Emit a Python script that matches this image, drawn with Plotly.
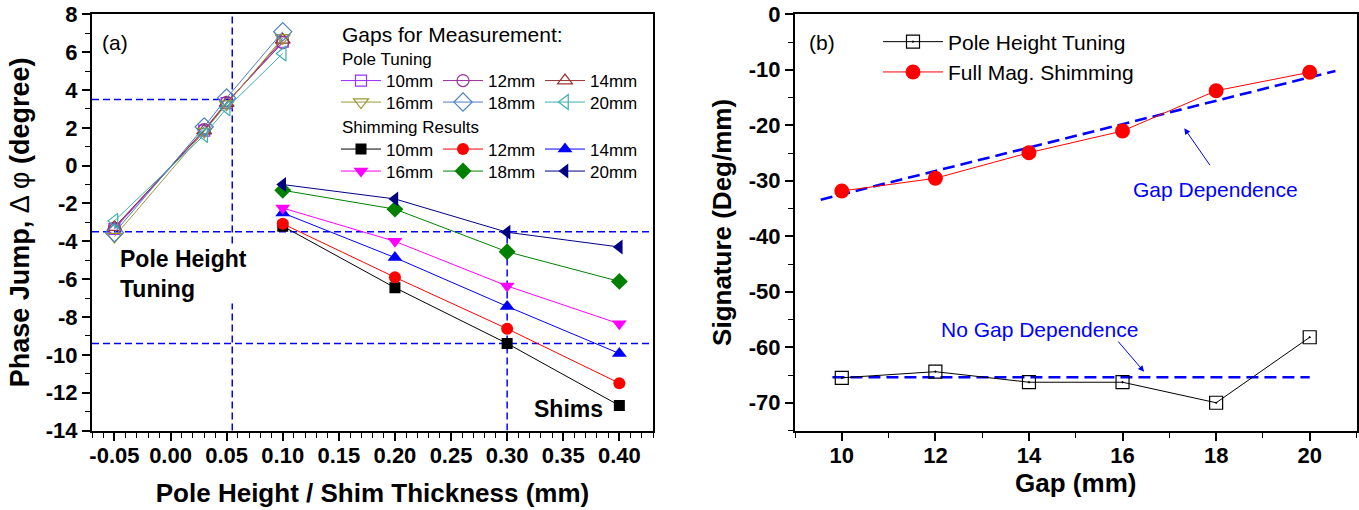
import plotly.graph_objects as go

W, H = 1359, 510
FONT = "Liberation Sans, Arial, sans-serif"

# ---------------- panel (a): phase jump vs pole height / shim thickness ----------------
gap_labels = ["10mm", "12mm", "14mm", "16mm", "18mm", "20mm"]

# pole height tuning (open symbols)
pole_x = [-0.05, 0.03, 0.05, 0.10]
pole_10 = [-3.35, 1.85, 3.30, 6.55]
pole_12 = [-3.30, 1.90, 3.35, 6.50]
pole_14 = [-3.25, 1.85, 3.30, 6.65]
pole_16 = [-3.75, 1.80, 3.25, 6.75]
pole_18 = [-3.55, 2.05, 3.58, 7.08]
pole_20 = [-2.92, 1.62, 3.03, 5.93]

# shimming results (filled symbols)
shim_x = [0.10, 0.20, 0.30, 0.40]
shim_10 = [-3.20, -6.45, -9.40, -12.68]
shim_12 = [-3.07, -5.90, -8.62, -11.50]
shim_14 = [-2.50, -4.86, -7.44, -9.93]
shim_16 = [-2.24, -4.00, -6.36, -8.36]
shim_18 = [-1.30, -2.30, -4.55, -6.12]
shim_20 = [-1.00, -1.76, -3.52, -4.30]

a_xtick_vals = [-0.05, 0.00, 0.05, 0.10, 0.15, 0.20, 0.25, 0.30, 0.35, 0.40]
a_xtick_text = ["-0.05", "0.00", "0.05", "0.10", "0.15", "0.20", "0.25", "0.30", "0.35", "0.40"]
a_ytick_vals = [-14, -12, -10, -8, -6, -4, -2, 0, 2, 4, 6, 8]
a_ytick_text = ["-14", "-12", "-10", "-8", "-6", "-4", "-2", "0", "2", "4", "6", "8"]
a_xrange = [-0.07, 0.43]
a_yrange = [-14, 8]

# guide lines
guide_pole_height = 0.055
guide_shim_thickness = 0.30
guide_phase_pole = 3.5
guide_phase_low = -3.5
guide_phase_shim = -9.4

# ---------------- panel (b): signature vs gap ----------------
gap_mm = [10, 12, 14, 16, 18, 20]
sig_pole = [-65.5, -64.4, -66.3, -66.3, -70.0, -58.2]
sig_shim = [-31.84, -29.55, -24.94, -21.03, -13.77, -10.45]
trend_gap_x = [9.55, 20.55]
trend_gap_y = [-33.4, -10.2]
flat_gap_x = [9.8, 20.0]
flat_gap_y = [-65.4, -65.4]

b_xtick_vals = [10, 12, 14, 16, 18, 20]
b_xtick_text = ["10", "12", "14", "16", "18", "20"]
b_ytick_vals = [-70, -60, -50, -40, -30, -20, -10, 0]
b_ytick_text = ["-70", "-60", "-50", "-40", "-30", "-20", "-10", "0"]
b_xrange = [9, 21]
b_yrange = [-75, 0]

# ---------------- styling ----------------
pole_colors = ["#9933FF", "#993399", "#993333", "#999933", "#4A7FC0", "#3FB0B0"]
pole_symbols = ["square-open", "circle-open", "triangle-up-open",
                "triangle-down-open", "diamond-open", "triangle-left-open"]
pole_sizes = [11, 12, 13, 13, 14, 13]
shim_colors = ["#000000", "#FF0000", "#0000FF", "#FF00FF", "#008000", "#000080"]
shim_symbols = ["square", "circle", "triangle-up", "triangle-down", "diamond", "triangle-left"]
shim_sizes = [11, 12, 13, 13, 13, 13]

pole_series = [pole_10, pole_12, pole_14, pole_16, pole_18, pole_20]
shim_series = [shim_10, shim_12, shim_14, shim_16, shim_18, shim_20]

fig = go.Figure()

for i, ys in enumerate(pole_series):
    fig.add_trace(go.Scatter(
        x=pole_x, y=ys, name=gap_labels[i], mode="lines+markers",
        line=dict(color=pole_colors[i], width=1),
        marker=dict(symbol=pole_symbols[i], size=pole_sizes[i], color=pole_colors[i],
                    line=dict(width=1.2, color=pole_colors[i])),
        xaxis="x", yaxis="y", legend="legend" if i < 3 else "legend2",
    ))

for i, ys in enumerate(shim_series):
    fig.add_trace(go.Scatter(
        x=shim_x, y=ys, name=gap_labels[i], mode="lines+markers",
        line=dict(color=shim_colors[i], width=1),
        marker=dict(symbol=shim_symbols[i], size=shim_sizes[i], color=shim_colors[i],
                    line=dict(width=0)),
        xaxis="x", yaxis="y", legend="legend3" if i < 3 else "legend4",
    ))

# panel (b) guide lines
fig.add_trace(go.Scatter(x=trend_gap_x, y=trend_gap_y, mode="lines", showlegend=False,
                         line=dict(color="#0000FF", width=2.6, dash="12px,6px"),
                         xaxis="x2", yaxis="y2"))
fig.add_trace(go.Scatter(x=flat_gap_x, y=flat_gap_y, mode="lines", showlegend=False,
                         line=dict(color="#0000FF", width=2.6, dash="12px,6px"),
                         xaxis="x2", yaxis="y2"))

fig.add_trace(go.Scatter(
    x=gap_mm, y=sig_pole, name="Pole Height Tuning", mode="lines+markers",
    line=dict(color="#000000", width=1),
    marker=dict(symbol="square-open-dot", size=13, color="#000000", line=dict(width=1.2)),
    xaxis="x2", yaxis="y2", legend="legend5",
))
fig.add_trace(go.Scatter(
    x=gap_mm, y=sig_shim, name="Full Mag. Shimming", mode="lines+markers",
    line=dict(color="#FF0000", width=1),
    marker=dict(symbol="circle", size=15, color="#FF0000", line=dict(width=0)),
    xaxis="x2", yaxis="y2", legend="legend5",
))

# ---------------- axes ----------------
y_dom = [1 - 430.5 / H, 1 - 14.3 / H]
a_dom = [92 / W, 653 / W]
b_dom = [795 / W, 1356.5 / W]

tick_font = dict(family=FONT, size=22, color="#000000", weight="bold")
title_font = dict(family=FONT, size=26, color="#000000", weight="bold")
ytitle_font = dict(family=FONT, size=27, color="#000000", weight="bold")


def main_axis(**kw):
    base = dict(showline=True, linecolor="#000000", linewidth=2, mirror=True,
                ticks="outside", ticklen=8, tickwidth=1.5, tickcolor="#000000",
                tickfont=tick_font, showgrid=False, zeroline=False, automargin=False,
                tickmode="array")
    base.update(kw)
    return base


def mirror_axis(**kw):
    base = dict(showline=False, ticks="inside", ticklen=8, tickwidth=1.5, tickcolor="#000000",
                showticklabels=False, showgrid=False, zeroline=False, automargin=False,
                tickmode="array")
    base.update(kw)
    return base


def minor_ticks(direction, step):
    return dict(ticks=direction, ticklen=5, tickwidth=1.2, tickcolor="#000000",
                tickmode="linear", tick0=0, dtick=step)


fig.update_layout(
    xaxis=main_axis(domain=a_dom, anchor="y", range=a_xrange,
                    tickvals=a_xtick_vals, ticktext=a_xtick_text,
                    minor=minor_ticks("outside", 0.01), ticklabelstandoff=-4,
                    title=dict(text="Pole Height / Shim Thickness (mm)", font=title_font, standoff=17)),
    yaxis=main_axis(domain=y_dom, anchor="x", range=a_yrange,
                    tickvals=a_ytick_vals, ticktext=a_ytick_text,
                    minor=minor_ticks("outside", 1),
                    title=dict(text="Phase Jump, <span style='font-weight:normal'>\u0394 \u03c6</span> (degree)",
                               font=ytitle_font, standoff=8)),
    xaxis3=mirror_axis(overlaying="x", anchor="y", side="top", range=a_xrange,
                       tickvals=a_xtick_vals, minor=minor_ticks("inside", 0.01)),
    yaxis3=mirror_axis(overlaying="y", anchor="x", side="right", range=a_yrange,
                       tickvals=a_ytick_vals, minor=minor_ticks("inside", 1)),
    xaxis2=main_axis(domain=b_dom, anchor="y2", range=b_xrange,
                     tickvals=b_xtick_vals, ticktext=b_xtick_text,
                     minor=minor_ticks("outside", 1), ticklabelstandoff=-4,
                     title=dict(text="Gap (mm)", font=title_font, standoff=2)),
    yaxis2=main_axis(domain=y_dom, anchor="x2", range=b_yrange,
                     tickvals=b_ytick_vals, ticktext=b_ytick_text,
                     minor=minor_ticks("outside", 5),
                     title=dict(text="Signature (Deg/mm)", font=title_font, standoff=10)),
    xaxis4=mirror_axis(overlaying="x2", anchor="y2", side="top", range=b_xrange,
                       tickvals=b_xtick_vals, minor=minor_ticks("inside", 1)),
    yaxis4=mirror_axis(overlaying="y2", anchor="x2", side="right", range=b_yrange,
                       tickvals=b_ytick_vals, minor=minor_ticks("inside", 5)),
)

# ---------------- legends ----------------
row_legend = dict(orientation="h", xanchor="left", yanchor="middle",
                  bgcolor="rgba(0,0,0,0)", borderwidth=0,
                  font=dict(family=FONT, size=17, color="#000000"),
                  itemwidth=40, entrywidth=47, entrywidthmode="pixels",
                  itemsizing="trace", tracegroupgap=0, itemclick=False)
legend_left = 336 / W
fig.update_layout(
    legend=dict(row_legend, x=legend_left, y=1 - 81 / H),
    legend2=dict(row_legend, x=legend_left, y=1 - 102.5 / H),
    legend3=dict(row_legend, x=legend_left, y=1 - 149.5 / H),
    legend4=dict(row_legend, x=legend_left, y=1 - 171.5 / H),
    legend5=dict(orientation="v", xanchor="left", yanchor="middle",
                 x=878 / W, y=1 - 57 / H, bgcolor="rgba(0,0,0,0)", borderwidth=0,
                 font=dict(family=FONT, size=21, color="#000000"),
                 itemwidth=60, itemsizing="trace", tracegroupgap=0, itemclick=False),
)

# ---------------- guide shapes (panel a) ----------------
guide_line = dict(color="#0000FF", width=1.5, dash="7px,4px")
fig.add_shape(type="line", xref="x", yref="y", x0=a_xrange[0], x1=guide_pole_height,
              y0=guide_phase_pole, y1=guide_phase_pole, line=guide_line, layer="below")
fig.add_shape(type="line", xref="x domain", yref="y", x0=0, x1=1,
              y0=guide_phase_low, y1=guide_phase_low, line=guide_line, layer="below")
fig.add_shape(type="line", xref="x domain", yref="y", x0=0, x1=1,
              y0=guide_phase_shim, y1=guide_phase_shim, line=guide_line, layer="below")
fig.add_shape(type="line", xref="x", yref="y domain", x0=guide_pole_height, x1=guide_pole_height,
              y0=0, y1=1, line=guide_line, layer="below")
fig.add_shape(type="line", xref="x", yref="y", x0=guide_shim_thickness, x1=guide_shim_thickness,
              y0=a_yrange[0], y1=guide_phase_low, line=guide_line, layer="below")

# ---------------- text annotations ----------------
head_font = dict(family=FONT, size=21, color="#000000")
sub_font = dict(family=FONT, size=17, color="#000000")
annotations = [
    dict(text="(a)", xref="x", yref="y", x=-0.0627, y=6.49, xanchor="left", yanchor="middle",
         showarrow=False, font=head_font),
    dict(text="Pole Height<br>Tuning", xref="x", yref="y", x=-0.0467, y=-5.74,
         xanchor="left", yanchor="middle", align="left", showarrow=False, bgcolor="#FFFFFF",
         font=dict(family=FONT, size=23, color="#000000", weight="bold")),
    dict(text="Shims", xref="x", yref="y", x=0.387, y=-12.85, xanchor="right", yanchor="middle",
         showarrow=False, font=dict(family=FONT, size=23, color="#000000", weight="bold")),
    dict(text="Gaps for Measurement:", xref="paper", yref="paper", x=340 / W, y=1 - 35 / H,
         xanchor="left", yanchor="middle", showarrow=False, font=head_font),
    dict(text="Pole Tuning", xref="paper", yref="paper", x=340 / W, y=1 - 59.5 / H,
         xanchor="left", yanchor="middle", showarrow=False, font=sub_font),
    dict(text="Shimming Results", xref="paper", yref="paper", x=340 / W, y=1 - 127 / H,
         xanchor="left", yanchor="middle", showarrow=False, font=sub_font),
    dict(text="(b)", xref="x2", yref="y2", x=9.25, y=-5.17, xanchor="left", yanchor="middle",
         showarrow=False, font=head_font),
    dict(text="Gap Dependence", xref="x2", yref="y2", x=17.99, y=-31.6,
         showarrow=False, font=dict(family=FONT, size=21, color="#0000FF")),
    dict(text="No Gap Dependence", xref="x2", yref="y2", x=14.23, y=-56.8,
         showarrow=False, font=dict(family=FONT, size=21, color="#0000FF")),
    dict(text="", xref="x2", yref="y2", x=17.32, y=-20.54, axref="x2", ayref="y2",
         ax=17.89, ay=-27.46, showarrow=True, arrowhead=2, arrowsize=1.2, arrowwidth=1,
         arrowcolor="#0000FF"),
    dict(text="", xref="x2", yref="y2", x=16.46, y=-64.4, axref="x2", ayref="y2",
         ax=15.88, ay=-58.7, showarrow=True, arrowhead=2, arrowsize=1.2, arrowwidth=1,
         arrowcolor="#0000FF"),
]
fig.update_layout(annotations=annotations)

fig.update_layout(
    width=W, height=H, margin=dict(l=0, r=0, t=0, b=0),
    paper_bgcolor="#FFFFFF", plot_bgcolor="rgba(0,0,0,0)",
    font=dict(family=FONT, color="#000000"),
)

fig.write_html("out.html", config={"displayModeBar": False})
